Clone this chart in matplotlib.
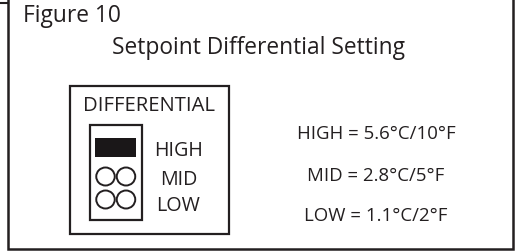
import matplotlib
matplotlib.use("Agg")
import matplotlib.pyplot as plt
from matplotlib.patches import Rectangle, Ellipse

# ---- content ----
figure_label = "Figure 10"
title = "Setpoint Differential Setting"
box_title = "DIFFERENTIAL"
settings = ["HIGH", "MID", "LOW"]
values_c = ["5.6°C", "2.8°C", "1.1°C"]
values_f = ["10°F", "5°F", "2°F"]
selected = "HIGH"

INK = "#231f20"
FONT = ["Open Sans", "DejaVu Sans"]

W, H = 517, 253
fig = plt.figure(figsize=(W / 100, H / 100), dpi=100)
ax = fig.add_axes([0, 0, 1, 1])
ax.set_xlim(0, W)
ax.set_ylim(H, 0)
ax.axis("off")

# outer frame (top edge outside the crop)
ax.plot([8, 8, 512.5, 512.5], [-5, 250, 250, -5], color=INK, lw=1.8,
        solid_joinstyle="miter")
ax.plot([0, 8], [3.5, 3.5], color=INK, lw=1.5)

ax.text(23, 21.5, figure_label, fontsize=16.4, family=FONT, color=INK,
        ha="left", va="baseline")
ax.text(259, 54, title, fontsize=16.4, family=FONT, color=INK,
        ha="center", va="baseline")

# inner box
ax.add_patch(Rectangle((69.5, 86.5), 159.5, 148.5, fill=False, ec=INK, lw=1.6,
                       joinstyle="miter"))
ax.text(149, 111, box_title, fontsize=14.6, family=FONT, color=INK,
        ha="center", va="baseline")

# jumper block
ax.add_patch(Rectangle((90, 125.5), 52, 95.5, fill=False, ec=INK, lw=1.6,
                       joinstyle="miter"))
row_y = {"HIGH": 148.5, "MID": 177.5, "LOW": 200.5}
label_base = {"HIGH": 156, "MID": 185, "LOW": 211}
for s in settings:
    y = row_y[s]
    if s == selected:
        ax.add_patch(Rectangle((94.5, y - 9.5), 41.5, 19, fc="#1a1718", ec="none"))
    else:
        for cx in (105.5, 126):
            ax.add_patch(Ellipse((cx, y), 18.5, 18, fill=False, ec=INK, lw=1.4))
    ax.text(178.5, label_base[s], s, fontsize=14.2, family=FONT, color=INK,
            ha="center", va="baseline")

# right column
right_base = {"HIGH": 139, "MID": 181, "LOW": 221}
for s, c, f in zip(settings, values_c, values_f):
    ax.text(376, right_base[s], f"{s} = {c}/{f}", fontsize=13.4, family=FONT,
            color=INK, ha="center", va="baseline")

fig.savefig("out.png", dpi=100, facecolor="white")
